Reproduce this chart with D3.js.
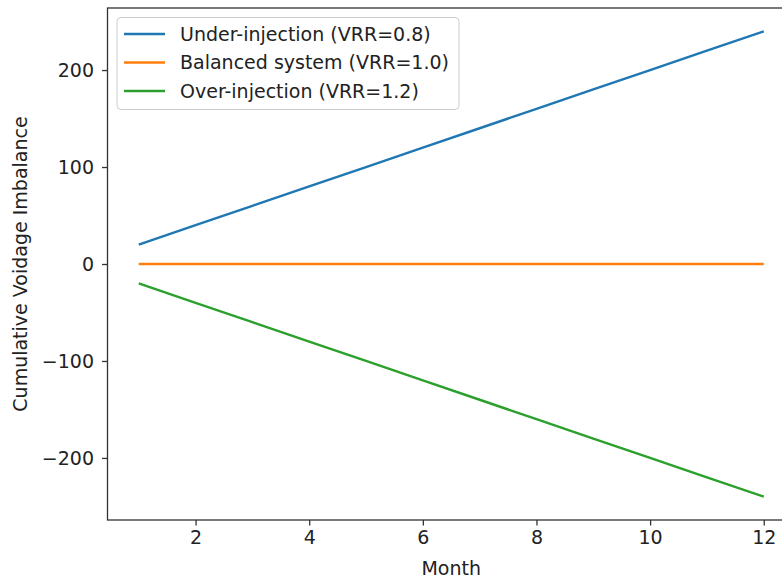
<!DOCTYPE html>
<html>
<head>
<meta charset="utf-8">
<script src="https://cdn.jsdelivr.net/npm/d3@7"></script>
<style>
  body { margin: 0; background: #fff; }
  svg { display: block; font-family: "DejaVu Sans", sans-serif; }
</style>
</head>
<body>
<svg id="chart"></svg>
<script>
var months = [1, 2, 3, 4, 5, 6, 7, 8, 9, 10, 11, 12];
var underInjection = [20, 40, 60, 80, 100, 120, 140, 160, 180, 200, 220, 240];
var balanced = [0, 0, 0, 0, 0, 0, 0, 0, 0, 0, 0, 0];
var overInjection = [-20, -40, -60, -80, -100, -120, -140, -160, -180, -200, -220, -240];
var seriesNames = ["Under-injection (VRR=0.8)", "Balanced system (VRR=1.0)", "Over-injection (VRR=1.2)"];
var xTicks = [2, 4, 6, 8, 10, 12];
var yTicks = [-200, -100, 0, 100, 200];

var W = 782, H = 579;
var plotLeft = 107.5, plotRight = 795, plotTop = 8, plotBottom = 520;
var fontSize = 19;

var svg = d3.select("#chart").attr("width", W).attr("height", H);

var x = d3.scaleLinear().domain([0.45, 12.55]).range([plotLeft, plotRight]);
var y = d3.scaleLinear().domain([-264, 264]).range([plotBottom, plotTop]);

var colors = ["#1f77b4", "#ff7f0e", "#2ca02c"];
var series = [underInjection, balanced, overInjection];

var line = d3.line()
  .x(function (d) { return x(d[0]); })
  .y(function (d) { return y(d[1]); });

series.forEach(function (vals, i) {
  svg.append("path")
    .datum(months.map(function (m, j) { return [m, vals[j]]; }))
    .attr("fill", "none")
    .attr("stroke", colors[i])
    .attr("stroke-width", 2.4)
    .attr("d", line);
});

// axes
var xAxis = svg.append("g")
  .attr("transform", "translate(0," + plotBottom + ")")
  .call(d3.axisBottom(x).tickValues(xTicks).tickSize(5.5).tickPadding(5));
var yAxis = svg.append("g")
  .attr("transform", "translate(" + plotLeft + ",0)")
  .call(d3.axisLeft(y).tickValues(yTicks).tickSize(5.5).tickPadding(8)
    .tickFormat(function (d) { return d < 0 ? "\u2212" + Math.abs(d) : d; }));

[xAxis, yAxis].forEach(function (g) {
  g.select(".domain").remove();
  g.selectAll("line").attr("stroke", "#333").attr("stroke-width", 1.3);
  g.selectAll("text").attr("font-size", fontSize).attr("fill", "#222")
    .attr("font-family", "DejaVu Sans, sans-serif");
});

// spines
svg.append("rect")
  .attr("x", plotLeft).attr("y", plotTop)
  .attr("width", plotRight - plotLeft).attr("height", plotBottom - plotTop)
  .attr("fill", "none").attr("stroke", "#333").attr("stroke-width", 1.3);

svg.append("text")
  .attr("x", x(6.5)).attr("y", 575)
  .attr("text-anchor", "middle")
  .attr("font-size", fontSize).attr("fill", "#222")
  .text("Month");

svg.append("text")
  .attr("transform", "translate(27," + y(0) + ") rotate(-90)")
  .attr("text-anchor", "middle")
  .attr("font-size", fontSize).attr("fill", "#222")
  .text("Cumulative Voidage Imbalance");

// legend
var legend = svg.append("g");
legend.append("rect")
  .attr("x", 117).attr("y", 17.5)
  .attr("width", 342).attr("height", 92)
  .attr("rx", 4)
  .attr("fill", "#fff").attr("fill-opacity", 0.8)
  .attr("stroke", "#ccc").attr("stroke-width", 1);

seriesNames.forEach(function (name, i) {
  var yy = 34 + i * 28.5;
  legend.append("line")
    .attr("x1", 124).attr("x2", 165)
    .attr("y1", yy).attr("y2", yy)
    .attr("stroke", colors[i]).attr("stroke-width", 2.4);
  legend.append("text")
    .attr("x", 180).attr("y", yy)
    .attr("dy", "0.35em")
    .attr("font-size", fontSize).attr("fill", "#222")
    .text(name);
});
</script>
</body>
</html>
